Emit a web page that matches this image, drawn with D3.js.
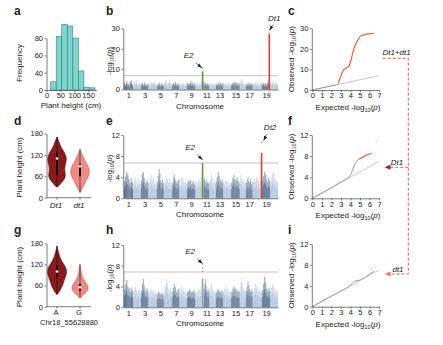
<!DOCTYPE html>
<html><head><meta charset="utf-8">
<script src="https://cdn.jsdelivr.net/npm/d3@7"></script>
<style>body{margin:0;background:#fff} svg text{font-family:"Liberation Sans",Arial,sans-serif;fill:#222}</style>
</head><body><svg id="c" width="443" height="345"></svg>
<script>
// ---------------- DATA ----------------
// a: histogram
const histBinStart = [15,35,55,75,95,115,135,155];
const histBinWidth = 20;
const histFreq = [19,82,96,94,80,42,6,5];
const histYTicks = [0,40,60,80];
const histXTicks = [0,50,100,150];

// d / g : violins (value grid + relative density)
const violinGrid1 = [30,40,50,60,70,80,90,100,110,120,130,140,150,160,170];
const densDt1     = [0.5,4,7.5,9,8.5,8,8.5,9.5,10,9,7,4.5,3,1.5,0.3];
const violinGrid2 = [15,25,35,45,55,65,75,85,95,105,115,125,135];
const densdt1     = [0.3,2,4,6,8,9.5,10,9,7,5,3,1.5,0.3];
const violinGrid3 = [35,45,55,65,75,85,95,105,115,125,135,145,155,165,172];
const densA       = [0.4,3,5,6.5,7.5,9,10,10,8.5,6,4,2.5,1.5,0.5,0.2];
const violinGrid4 = [25,35,45,55,65,75,85,95,105,115,120];
const densG       = [0.4,4,8,9,7,4,2.5,1.5,0.8,0.3,0.1];
const dGroups = ["Dt1","dt1"];
const gGroups = ["A","G"];
const dStats = [[30,65,110,128,170],[15,60,88,95,135]]; // min,q1,median,q3,max
const gStats = [[35,82,100,118,172],[25,45,55,65,120]];
const violinYTicks = [0,60,120,180];

// Manhattan plots
const chromLen = [56.8,48.6,45.8,52.4,42.2,51.4,44.6,47.8,50.2,51.6,34.8,40.1,45.9,49.0,51.8,37.9,41.6,58.0,50.7,47.9];
const chromLabels = [1,3,5,7,9,11,13,15,17,19];
const manB = [
 3.5,2.8,4.2,3.0,2.5,3.8,4.5,2.6, 2.4,3.9,3.1,4.6,2.8,2.2,3.4,2.9, 2.7,3.2,2.4,3.6,2.9,2.1,2.6,3.0, 3.1,2.5,3.8,2.9,3.3,4.0,2.7,2.4,
 2.2,2.8,3.5,2.6,2.1,3.1,2.5,2.3, 3.0,4.8,3.6,2.7,3.4,5.0,3.2,2.6, 2.6,3.3,2.8,3.9,2.5,3.1,2.4,2.9, 2.9,2.3,3.4,2.7,3.0,2.2,2.8,3.6,
 3.2,2.6,3.0,4.1,2.8,3.5,2.4,3.0, 2.8,3.4,2.5,3.1,2.9,4.0,5.5,4.2, 4.0,3.2,2.7,3.6,2.5,3.0,2.4,2.8, 2.5,3.1,2.8,2.3,3.4,2.6,3.0,2.2,
 2.9,2.4,3.3,2.7,3.8,2.5,2.9,3.1, 3.3,2.8,3.6,2.4,3.0,3.9,2.7,2.5, 2.7,3.5,2.9,4.0,3.2,2.6,3.4,2.8, 3.0,3.8,5.4,4.2,3.1,2.7,2.9,2.4,
 2.5,3.0,2.6,3.3,2.8,2.4,3.1,2.7, 3.1,2.7,3.6,2.9,3.4,2.5,3.0,3.8, 2.8,3.3,2.6,3.0,2.7,3.5,4.2,3.0, 3.6,2.9,4.2,3.1,2.7,3.8,3.0,2.6];
const manE = [
 3.2,4.1,5.0,4.4,3.6,2.9,3.8,3.1, 2.8,3.5,4.0,3.2,2.6,3.7,3.0,2.7, 3.4,4.6,5.0,3.9,3.1,2.8,3.5,3.0, 2.9,3.6,4.5,3.3,3.9,2.7,3.2,2.6,
 3.1,4.2,5.6,4.8,3.4,2.9,3.6,3.0, 2.7,3.3,4.0,3.6,2.9,3.8,3.1,2.5, 3.0,3.9,4.5,3.5,3.2,2.8,3.4,3.7, 2.6,3.2,3.8,4.0,3.1,2.9,3.5,2.8,
 2.9,3.4,3.1,3.5,2.7,3.0,3.3,2.6, 2.8,3.3,3.0,3.6,3.1,3.9,4.8,3.4, 3.5,4.0,3.2,2.8,3.6,3.0,2.7,3.1, 3.0,3.6,4.5,3.8,3.1,2.9,3.4,2.8,
 3.2,4.0,5.0,4.3,3.5,3.0,3.6,3.1, 2.7,3.1,3.5,3.3,2.9,3.2,2.6,3.0, 3.0,3.8,4.5,3.6,3.2,4.0,3.4,2.9, 3.3,4.5,3.9,3.1,3.6,2.8,3.2,3.0,
 2.9,3.5,4.0,3.3,3.0,3.6,2.7,3.1, 3.1,3.7,3.2,4.0,3.4,2.9,3.5,3.8, 3.4,4.2,5.0,4.5,3.6,3.1,3.9,3.3, 3.0,3.9,4.6,5.0,3.8,3.2,3.5,3.0];
const manH = [
 3.5,4.4,5.3,4.0,3.6,3.0,3.8,3.2, 2.9,3.6,4.0,3.4,2.8,3.5,3.1,2.6, 3.3,4.5,5.5,4.2,3.4,3.0,3.7,3.1, 2.8,3.2,3.5,3.0,3.3,2.7,3.1,2.6,
 2.5,2.9,3.0,2.7,2.4,2.8,2.6,2.3, 3.1,4.0,5.5,4.6,3.5,3.0,3.8,3.2, 3.0,3.7,4.5,3.9,3.2,2.8,3.4,3.6, 2.7,3.3,4.0,3.6,3.0,2.9,3.4,2.8,
 2.9,3.2,3.5,3.1,2.8,3.0,3.3,2.7, 2.8,3.2,3.0,3.5,3.1,3.6,4.5,3.3, 3.6,4.5,5.5,4.2,3.4,3.0,3.5,3.1, 3.0,3.8,4.5,3.6,3.1,2.9,3.3,2.8,
 2.8,3.2,3.5,3.1,2.9,3.3,2.7,3.0, 3.1,3.6,4.0,3.4,3.0,3.5,2.8,3.2, 3.0,3.5,4.0,3.7,3.2,3.4,2.9,3.1, 3.4,4.6,5.8,4.8,3.7,3.2,3.5,3.0,
 3.2,4.0,5.0,4.3,3.5,3.0,3.6,3.1, 3.0,3.7,4.5,3.9,3.2,3.5,2.9,3.3, 3.3,4.5,5.9,4.8,3.6,3.1,3.8,3.2, 3.1,3.8,4.5,4.0,3.3,2.9,3.4,3.0];
const segPerChrom = 8;
const peaksB = [{chr:10,pos:45.3,v:8.9,col:"#5f9a3a",name:"E2"},{chr:19,pos:45.2,v:27.5,col:"#e2412f",name:"Dt1"}];
const peaksE = [{chr:10,pos:45.3,v:6.7,col:"#6a9a3c",name:"E2"},{chr:18,pos:55.6,v:8.6,col:"#e2412f",name:"Dt2"}];
const peaksH = [{chr:10,pos:45.3,v:5.6,col:"#9aa4b0",name:"E2"}];
const dotsB = [{chr:10,pos:45.3,v:10.5}];
const dotsE = [{chr:10,pos:45.3,v:7.5},{chr:18,pos:55.6,v:10.6}];
const dotsH = [{chr:10,pos:45.3,v:8.2},{chr:10,pos:45.3,v:7.5},{chr:10,pos:45.3,v:6.9}];
const thrB = 6.8, thrE = 6.7, thrH = 6.8;
const manYTicksB = [0,10,20,30];
const manYTicksE = [0,4,8,12];

// QQ plots
const qqXTicks = [0,1,2,3,4,5,6,7];
const qqCExp = [0,0.5,1,1.5,2,2.5,2.75,2.9,3.1,3.27,3.5,3.8,4.0,4.15,4.3,4.5,4.75,5.0,5.3,5.55,5.9,6.25,6.5];
const qqCObs = [0,0.5,1,1.5,2,2.5,3.2,5.7,8.0,9.7,10.5,11.3,13.5,16.2,19.0,21.8,24.0,25.9,26.7,27.0,27.3,27.5,27.6];
const qqCRedFrom = 6;
const qqFExp = [0,1,2,3,3.5,4.0,4.5,4.85,5.2,5.7,6.25];
const qqFObs = [0,1,2,3.1,3.6,4.4,6.6,7.4,7.7,8.2,8.5];
const qqFRedFrom = 7;
const qqFOut = [[6.7,10.7]];
const qqIExp = [0,1,2,3,4,4.3,4.6,5,5.5,6,6.5];
const qqIObs = [0,1,2,3,4.1,4.7,5.0,5.1,5.6,6.2,6.8];
const qqIOut = [[6.2,7.3],[6.6,7.6]];

// ---------------- DRAW ----------------
const svg = d3.select("#c");
const defs = svg.append("defs");
defs.append("marker").attr("id","arr").attr("viewBox","0 0 6 4").attr("refX",6).attr("refY",2)
  .attr("markerWidth",5).attr("markerHeight",4).attr("markerUnits","userSpaceOnUse").attr("orient","auto")
  .append("path").attr("d","M0,0L6,2L0,4z").attr("fill","#222");

function styleAxis(g, fs){
  g.selectAll("path,line").attr("stroke","#444").attr("stroke-width",0.7);
  g.selectAll("text").attr("font-size",fs||7.5).attr("fill","#222");
}
function panelLabel(t,x,y){ svg.append("text").attr("x",x).attr("y",y).attr("font-size",12).attr("font-weight","bold").text(t); }
function rotLabel(x,y,parts,fs){
  const t = svg.append("text").attr("transform",`translate(${x},${y}) rotate(-90)`).attr("text-anchor","middle").attr("font-size",fs||8);
  parts(t); return t;
}
function logParts(prefix){ return t=>{
  t.append("tspan").text(prefix+"-log");
  t.append("tspan").attr("font-size",5.5).attr("dy",2).text("10");
  t.append("tspan").attr("dy",-2).text("(");
  t.append("tspan").attr("font-style","italic").text("p");
  t.append("tspan").text(")");
};}
function hLogLabel(x,y,prefix){
  const t = svg.append("text").attr("x",x).attr("y",y).attr("text-anchor","middle").attr("font-size",8);
  logParts(prefix)(t);
}

// ---- panel a ----
panelLabel("a",14,15);
const xA = d3.scaleLinear().domain([0,180]).range([46.5,96.4]);
const yA = d3.scaleLinear().domain(histYTicks).range([90,72.7,55.4,38.1]);
svg.append("g").selectAll("rect").data(histFreq).join("rect")
  .attr("x",(d,i)=>xA(histBinStart[i])).attr("width",(d,i)=>xA(histBinStart[i]+histBinWidth)-xA(histBinStart[i]))
  .attr("y",d=>yA(d)).attr("height",d=>yA(0)-yA(d))
  .attr("fill","#7dd6ce").attr("stroke","#3c7f7a").attr("stroke-width",0.6);
styleAxis(svg.append("g").attr("transform","translate(46.5,0)").call(d3.axisLeft(yA).tickValues(histYTicks).tickSize(2).tickSizeOuter(0).tickPadding(1.5)));
styleAxis(svg.append("g").attr("transform","translate(0,90)").call(d3.axisBottom(xA).tickValues(histXTicks).tickSize(2).tickSizeOuter(0).tickPadding(1)));
rotLabel(22,63,t=>t.text("Frequency"));
svg.append("text").attr("x",71).attr("y",108).attr("text-anchor","middle").attr("font-size",8).text("Plant height (cm)");

// ---- violins ----
function violinPanel(label, ly, y0, y180, groups, grids, dens, stats, colors, italic){
  panelLabel(label,14,ly);
  const y = d3.scaleLinear().domain([0,180]).range([y0,y180]);
  const x = d3.scalePoint().domain(groups).range([57,80]);
  const w = d3.scaleLinear().domain([0,10]).range([0,9.5]);
  groups.forEach((gname,i)=>{
    const pts = grids[i].map((v,j)=>({v,d:dens[i][j]}));
    const area = d3.area().curve(d3.curveBasis).y(p=>y(p.v)).x0(p=>x(gname)-w(p.d)).x1(p=>x(gname)+w(p.d));
    svg.append("path").attr("d",area(pts)).attr("fill",colors[i][0]).attr("stroke",colors[i][1]).attr("stroke-width",0.6);
    const s = stats[i];
    svg.append("line").attr("x1",x(gname)).attr("x2",x(gname)).attr("y1",y(s[0])).attr("y2",y(s[4])).attr("stroke","#111").attr("stroke-width",0.6);
    svg.append("rect").attr("x",x(gname)-1).attr("width",2).attr("y",y(s[3])).attr("height",y(s[1])-y(s[3])).attr("fill","#111");
    svg.append("circle").attr("cx",x(gname)).attr("cy",y(s[2])).attr("r",1.3).attr("fill","#fff");
  });
  styleAxis(svg.append("g").attr("transform","translate(46.5,0)").call(d3.axisLeft(y).tickValues(violinYTicks).tickSize(2).tickSizeOuter(0).tickPadding(1.5)));
  const xa = svg.append("g").attr("transform",`translate(0,${y0})`);
  xa.append("line").attr("x1",46.5).attr("x2",91).attr("y1",0).attr("y2",0);
  groups.forEach(gname=>{
    xa.append("line").attr("x1",x(gname)).attr("x2",x(gname)).attr("y1",0).attr("y2",2);
    xa.append("text").attr("x",x(gname)-1).attr("y",italic?10:8.8).attr("text-anchor","middle").attr("font-style",italic?"italic":"normal").text(gname);
  });
  styleAxis(xa,italic?8:7.5);
  rotLabel(22,(y0+y180)/2+2,t=>t.text("Plant height (cm)"));
  return y;
}
const violinColors = [["#8b1a1c","#4e0a0a"],["#f38a82","#d0504a"]];
violinPanel("d",125,197.7,133.5,dGroups,[violinGrid1,violinGrid2],[densDt1,densdt1],dStats,violinColors,true);
violinPanel("g",234,306.7,243.3,gGroups,[violinGrid3,violinGrid4],[densA,densG],gStats,violinColors,false);
svg.append("text").attr("x",69).attr("y",324.5).attr("text-anchor","middle").attr("font-size",7.5).text("Chr18_55628880");

// ---- Manhattan ----
const cum = [0]; chromLen.forEach((l,i)=>cum.push(cum[i]+l));
const total = cum[cum.length-1];
const xM = d3.scaleLinear().domain([0,total]).range([123.8,278]);
const chromColors = ["#46658a","#a9c0d8"];
function manhattan(label, labY, y0, yTop, ymax, yTicks, vals, peaks, dots, thr, ann){
  panelLabel(label,106,labY);
  const y = d3.scaleLinear().domain([0,ymax]).range([y0,yTop]);
  const g = svg.append("g");
  chromLen.forEach((len,ci)=>{
    for(let j=0;j<segPerChrom;j++){
      const v = vals[ci*segPerChrom+j];
      const x0 = xM(cum[ci]+j*len/segPerChrom), x1 = xM(cum[ci]+(j+1)*len/segPerChrom);
      g.append("rect").attr("x",x0).attr("width",x1-x0+0.15).attr("y",y(v)).attr("height",y(0)-y(v))
        .attr("fill",chromColors[ci%2]).attr("opacity",0.5);
      g.append("rect").attr("x",x0+0.2).attr("width",Math.max(0.4,x1-x0-0.4)).attr("y",y(v*0.6)).attr("height",y(0)-y(v*0.6))
        .attr("fill",chromColors[ci%2]).attr("opacity",0.9);
    }
  });
  svg.append("line").attr("x1",xM.range()[0]).attr("x2",xM.range()[1]).attr("y1",y(thr)).attr("y2",y(thr)).attr("stroke","#9a9a9a").attr("stroke-width",0.6);
  peaks.forEach(p=>{
    const px = xM(cum[p.chr-1]+p.pos);
    svg.append("line").attr("x1",px).attr("x2",px).attr("y1",y(0)).attr("y2",y(p.v)).attr("stroke",p.col).attr("stroke-width",1.6);
  });
  dots.forEach(p=>{
    svg.append("circle").attr("cx",xM(cum[p.chr-1]+p.pos)).attr("cy",y(p.v)).attr("r",0.6).attr("fill","#888");
  });
  ann.forEach(a=>{
    const p = a.peak; const px = xM(cum[p.chr-1]+p.pos), py = y(a.tipV);
    svg.append("line").attr("x1",px+a.dx).attr("y1",py+a.dy).attr("x2",px+a.tx).attr("y2",py).attr("stroke","#222").attr("stroke-width",0.6).attr("marker-end","url(#arr)");
    svg.append("text").attr("x",px+a.lx).attr("y",py+a.ly).attr("text-anchor","middle").attr("font-size",8).attr("font-style","italic").text(p.name);
  });
  styleAxis(svg.append("g").attr("transform",`translate(${xM.range()[0]-0.5},0)`).call(d3.axisLeft(y).tickValues(yTicks).tickSize(2).tickSizeOuter(0).tickPadding(1.5)));
  const centers = chromLabels.map(c=>cum[c-1]+chromLen[c-1]/2);
  styleAxis(svg.append("g").attr("transform",`translate(0,${y0})`).call(d3.axisBottom(xM).tickValues(centers).tickFormat((d,i)=>chromLabels[i]).tickSize(0).tickPadding(3).tickSizeOuter(0)));
  svg.append("text").attr("x",200).attr("y",y0+19).attr("text-anchor","middle").attr("font-size",8).text("Chromosome");
  rotLabel(111.5,(y0+yTop)/2+2,logParts(""),7.5);
}
manhattan("b",15,89.5,28.4,30,manYTicksB,manB,peaksB,dotsB,thrB,[
  {peak:peaksB[0],tipV:10.6,dx:-7,dy:-5,tx:-0.5,lx:-14,ly:-10},
  {peak:peaksB[1],tipV:29.0,dx:4,dy:-6,tx:0,lx:5,ly:-9}]);
manhattan("e",125,198.3,135,12,manYTicksE,manE,peaksE,dotsE,thrE,[
  {peak:peaksE[0],tipV:7.3,dx:-5.5,dy:-5,tx:0,lx:-12.5,ly:-10},
  {peak:peaksE[1],tipV:10.9,dx:5,dy:-6.5,tx:2,lx:8.5,ly:-11}]);
manhattan("h",234,307.3,245,12,manYTicksE,manH,peaksH,dotsH,thrH,[
  {peak:peaksH[0],tipV:8.4,dx:-5.5,dy:-5,tx:0,lx:-12.5,ly:-10}]);

// ---- QQ ----
const xQ = d3.scaleLinear().domain([0,7]).range([312.3,379]);
function qq(label, labY, y0, yTop, ymax, yTicks, ex, ob, redFrom, outs){
  panelLabel(label,288,labY);
  const y = d3.scaleLinear().domain([0,ymax]).range([y0,yTop]);
  svg.append("line").attr("x1",xQ(0)).attr("y1",y(0)).attr("x2",xQ(7)).attr("y2",y(7)).attr("stroke","#bdbdbd").attr("stroke-width",0.8);
  const pts = ex.map((e,i)=>[e,ob[i]]);
  const line = d3.line().curve(d3.curveMonotoneX).x(d=>xQ(d[0])).y(d=>y(d[1]));
  svg.append("path").attr("d",line(pts.slice(0,redFrom+1))).attr("fill","none").attr("stroke","#9c9c9c").attr("stroke-width",1);
  svg.append("path").attr("d",line(pts.slice(redFrom))).attr("fill","none").attr("stroke","#e8572e").attr("stroke-width",1.1);
  outs.forEach(o=>svg.append("circle").attr("cx",xQ(o[0])).attr("cy",y(o[1])).attr("r",0.6).attr("fill","#aaa"));
  styleAxis(svg.append("g").attr("transform",`translate(${xQ(0)-0.5},0)`).call(d3.axisLeft(y).tickValues(yTicks).tickSize(2).tickSizeOuter(0).tickPadding(1.5)));
  styleAxis(svg.append("g").attr("transform",`translate(0,${y0})`).call(d3.axisBottom(xQ).tickValues(qqXTicks).tickFormat(d3.format("d")).tickSize(2).tickSizeOuter(0).tickPadding(1)));
  hLogLabel(348,y0+20,"Expected ");
  rotLabel(294,(y0+yTop)/2,logParts("Observed "));
}
qq("c",15,90,28.3,30,manYTicksB,qqCExp,qqCObs,qqCRedFrom,[]);
qq("f",125,198.3,135,12,manYTicksE,qqFExp,qqFObs,qqFRedFrom,qqFOut);
qq("i",234,306.7,244,12,manYTicksE,qqIExp,qqIObs,qqIExp.length-1,qqIOut);

// ---- red dashed connectors ----
const red = "#e0463a";
const conn = svg.append("g").attr("stroke",red).attr("stroke-width",0.9).attr("stroke-dasharray","3,2").attr("fill","none");
conn.append("path").attr("d","M382.7,58.3H408.3V274H389");
conn.append("path").attr("d","M408.3,167.3H389");
svg.append("path").attr("d","M384.5,167.3L390.5,164.8L390.5,169.8Z").attr("fill","#9e1d1d");
svg.append("path").attr("d","M384.5,274L390.5,271.5L390.5,276.5Z").attr("fill","#f07a72");
svg.append("text").attr("x",396.5).attr("y",55).attr("text-anchor","middle").attr("font-size",8).attr("font-style","italic").text("Dt1+dt1");
svg.append("text").attr("x",397).attr("y",164.5).attr("text-anchor","middle").attr("font-size",8).attr("font-style","italic").text("Dt1");
svg.append("text").attr("x",398).attr("y",272).attr("text-anchor","middle").attr("font-size",8).attr("font-style","italic").text("dt1");
</script></body></html>
